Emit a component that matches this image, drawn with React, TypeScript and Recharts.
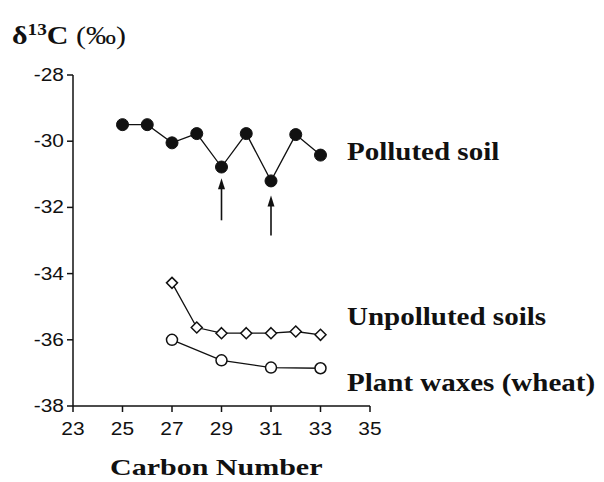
import { Line, LineChart, ReferenceLine, XAxis, YAxis } from 'recharts'

// ---------------------------------------------------------------------------
// Data
// ---------------------------------------------------------------------------

const X_TICKS = [23, 25, 27, 29, 31, 33, 35]
const Y_TICKS = [-28, -30, -32, -34, -36, -38]

const pollutedCarbon = [25, 26, 27, 28, 29, 30, 31, 32, 33]
const pollutedDelta = [-29.5, -29.5, -30.05, -29.77, -30.78, -29.77, -31.2, -29.8, -30.42]

const unpollutedCarbon = [27, 28, 29, 30, 31, 32, 33]
const unpollutedDelta = [-34.28, -35.63, -35.8, -35.8, -35.8, -35.75, -35.85]

const plantCarbon = [27, 29, 31, 33]
const plantDelta = [-36.0, -36.62, -36.84, -36.86]

// arrows marking the odd-carbon dips: [carbon, tail, head]
const arrows = [
  [29, -32.39, -31.12],
  [31, -32.85, -31.64],
]

const zip = (xs: number[], ys: number[]) => xs.map((c, i) => ({ c, v: ys[i] }))

const INK = '#111'
const SERIF = '"Liberation Serif", "Times New Roman", serif'
const SANS = '"Liberation Sans", Arial, sans-serif'
// the scanned figure is a little wider than tall, so text gets stretched
const STRETCH = 1.16

// ---------------------------------------------------------------------------
// Custom marks
// ---------------------------------------------------------------------------

function Diamond(props: any) {
  const { cx, cy, index } = props
  const r = 5.5
  return (
    <polygon
      key={`d-${index}`}
      points={`${cx},${cy - r} ${cx + r},${cy} ${cx},${cy + r} ${cx - r},${cy}`}
      fill="#fff"
      stroke={INK}
      strokeWidth={1.5}
    />
  )
}

function Arrow(props: any) {
  const { x1, y1, x2, y2 } = props
  const top = Math.min(y1, y2)
  const bottom = Math.max(y1, y2)
  return (
    <g>
      <line x1={x1} y1={bottom} x2={x2} y2={top + 8} stroke={INK} strokeWidth={1.6} />
      <polygon points={`${x1},${top} ${x1 - 3.5},${top + 11} ${x1 + 3.5},${top + 11}`} fill={INK} />
    </g>
  )
}

function XTick(props: any) {
  const { x, y, payload } = props
  return (
    <text
      transform={`translate(${x},${y}) scale(1.1,1)`}
      textAnchor="middle"
      dy={20}
      fontSize={19}
      fontFamily={SANS}
      fill={INK}
    >
      {payload.value}
    </text>
  )
}

function YTick(props: any) {
  const { x, y, payload } = props
  return (
    <text
      transform={`translate(${x},${y}) scale(1.1,1)`}
      textAnchor="end"
      dy={6}
      fontSize={19}
      fontFamily={SANS}
      fill={INK}
    >
      {payload.value}
    </text>
  )
}

// ---------------------------------------------------------------------------
// Chart
// ---------------------------------------------------------------------------

const labelStyle: React.CSSProperties = {
  position: 'absolute',
  fontFamily: SERIF,
  fontWeight: 700,
  fontSize: 25,
  color: INK,
  whiteSpace: 'nowrap',
  lineHeight: 1,
  transform: `scaleX(${STRETCH})`,
  transformOrigin: 'left top',
}

export default function App() {
  return (
    <div style={{ position: 'relative', width: 596, height: 474, background: '#fff' }}>
      <LineChart
        width={596}
        height={474}
        margin={{ top: 67, right: 234, bottom: 46, left: 25 }}
      >
        <XAxis
          type="number"
          dataKey="c"
          domain={[23, 35]}
          ticks={X_TICKS}
          allowDataOverflow
          height={30}
          tick={<XTick />}
          tickSize={6}
          tickMargin={3}
          stroke={INK}
          strokeWidth={1.5}
        />
        <YAxis
          type="number"
          domain={[-38, -28]}
          ticks={Y_TICKS}
          width={40}
          tick={<YTick />}
          tickSize={6}
          tickMargin={3}
          stroke={INK}
          strokeWidth={1.5}
        />
        {arrows.map(([c, tail, head]) => (
          <ReferenceLine
            key={c}
            segment={[
              { x: c, y: tail },
              { x: c, y: head },
            ]}
            shape={<Arrow />}
            ifOverflow="visible"
          />
        ))}
        <Line
          data={zip(pollutedCarbon, pollutedDelta)}
          dataKey="v"
          stroke={INK}
          strokeWidth={1.3}
          dot={{ r: 6, fill: INK, stroke: INK, strokeWidth: 1 }}
          isAnimationActive={false}
        />
        <Line
          data={zip(unpollutedCarbon, unpollutedDelta)}
          dataKey="v"
          stroke={INK}
          strokeWidth={1.3}
          dot={<Diamond />}
          isAnimationActive={false}
        />
        <Line
          data={zip(plantCarbon, plantDelta)}
          dataKey="v"
          stroke={INK}
          strokeWidth={1.3}
          dot={{ r: 5.5, fill: '#fff', stroke: INK, strokeWidth: 1.5 }}
          isAnimationActive={false}
        />
      </LineChart>

      <div
        style={{
          position: 'absolute',
          left: 4,
          top: 14,
          fontFamily: SERIF,
          fontSize: 25,
          color: INK,
          whiteSpace: 'nowrap',
          lineHeight: 1,
          transform: 'scaleX(1.2)',
          transformOrigin: 'left top',
        }}
      >
        <b>δ</b>
        <b style={{ fontSize: 16, verticalAlign: 9 }}>13</b>
        <b>C</b> (‰)
      </div>

      <div style={{ ...labelStyle, left: 339, top: 131 }}>Polluted soil</div>
      <div style={{ ...labelStyle, left: 339, top: 296 }}>Unpolluted soils</div>
      <div style={{ ...labelStyle, left: 339, top: 362 }}>Plant waxes (wheat)</div>

      <div style={{ ...labelStyle, fontSize: 24, left: 102, top: 447, transform: 'scaleX(1.25)' }}>
        Carbon Number
      </div>
    </div>
  )
}
